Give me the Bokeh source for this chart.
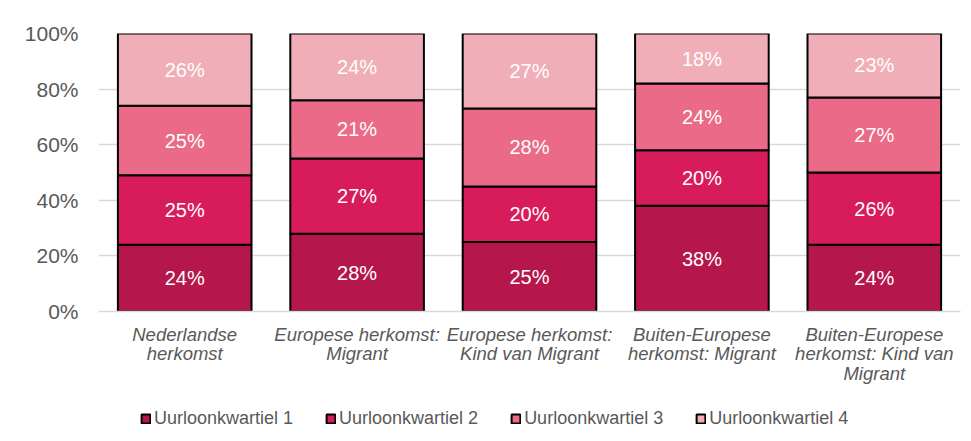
from bokeh.plotting import figure
from bokeh.layouts import column
from bokeh.models import ColumnDataSource, FixedTicker, NumeralTickFormatter, Legend, LegendItem, Range1d
from bokeh.core.properties import value
from bokeh.embed import file_html
from bokeh.resources import INLINE

categories = ["Nederlandse\nherkomst",
              "Europese herkomst:\nMigrant",
              "Europese herkomst:\nKind van Migrant",
              "Buiten-Europese\nherkomst: Migrant",
              "Buiten-Europese\nherkomst: Kind van\nMigrant"]
series_names = ["Uurloonkwartiel 1", "Uurloonkwartiel 2", "Uurloonkwartiel 3", "Uurloonkwartiel 4"]
q1 = [24, 28, 25, 38, 24]
q2 = [25, 27, 20, 20, 26]
q3 = [25, 21, 28, 24, 27]
q4 = [26, 24, 27, 18, 23]
colors = ["#B5164B", "#D81B5B", "#EA6A87", "#F0AEB8"]
y_ticks = [0, 0.2, 0.4, 0.6, 0.8, 1.0]

FONT = "Liberation Sans"
GRAY = "#595959"

xs = list(range(len(categories)))
series = [q1, q2, q3, q4]
keys = ["q1", "q2", "q3", "q4"]
data = {"x": xs}
for k, s in zip(keys, series):
    data[k] = [v / 100 for v in s]
src = ColumnDataSource(data)

p = figure(frame_width=862, frame_height=278, output_backend="svg", toolbar_location=None,
           x_range=(-0.5, len(categories) - 0.5), y_range=(0, 1),
           min_border_left=98, min_border_right=11, min_border_top=33, min_border_bottom=74)
p.outline_line_color = None
p.background_fill_color = "white"

renderers = p.vbar_stack(keys, x="x", width=0.775, source=src, fill_color=colors,
                         line_color="black", line_width=2)

# labels
lx, ly, lt = [], [], []
for i in xs:
    base = 0
    for s in series:
        v = s[i]
        lx.append(i)
        ly.append((base + v / 2) / 100)
        lt.append(f"{v}%")
        base += v
p.text(x=lx, y=ly, text=lt, text_color="white", text_font=value(FONT),
       text_font_size="20px", text_align="center", text_baseline="middle")

p.xgrid.grid_line_color = None
p.ygrid.grid_line_color = "#D9D9D9"
p.ygrid.grid_line_width = 1.5

p.yaxis.ticker = FixedTicker(ticks=y_ticks)
p.yaxis.formatter = NumeralTickFormatter(format="0%")
p.yaxis.axis_line_color = None
p.yaxis.major_tick_line_color = None
p.yaxis.minor_tick_line_color = None
p.yaxis.major_tick_out = 0
p.yaxis.major_label_text_font = FONT
p.yaxis.major_label_text_font_size = "21px"
p.yaxis.major_label_text_color = GRAY
p.yaxis.major_label_standoff = 20

p.xaxis.ticker = FixedTicker(ticks=xs)
p.xaxis.major_label_overrides = {i: c for i, c in zip(xs, categories)}
p.xaxis.axis_line_color = "#D9D9D9"
p.xaxis.axis_line_width = 1.5
p.xaxis.major_tick_line_color = None
p.xaxis.minor_tick_line_color = None
p.xaxis.major_tick_out = 0
p.xaxis.major_label_text_font = FONT
p.xaxis.major_label_text_font_size = "18.5px"
p.xaxis.major_label_text_font_style = "italic"
p.xaxis.major_label_text_color = GRAY
p.xaxis.major_label_text_line_height = 0.95
p.xaxis.major_label_standoff = 12

# legend in its own strip below the chart
lg = figure(width=971, height=56, output_backend="svg", toolbar_location=None,
            x_range=Range1d(0, 1), y_range=Range1d(0, 1),
            min_border_left=0, min_border_right=0, min_border_top=0, min_border_bottom=0)
lg.axis.visible = False
lg.grid.visible = False
lg.outline_line_color = None
legend_src = ColumnDataSource(dict(x=[0.5], top=[-5], bottom=[-5]))
dummy = [lg.vbar(x="x", top="top", bottom="bottom", width=0, source=legend_src,
                 fill_color=c, line_color="black", line_width=2)
         for c in colors]
legend = Legend(items=[LegendItem(label=n, renderers=[r]) for n, r in zip(series_names, dummy)],
                orientation="horizontal", location=(42, 14),
                glyph_width=11, glyph_height=11, label_standoff=3, spacing=32,
                label_text_font=FONT, label_text_font_size="18px", label_text_color=GRAY,
                border_line_color=None, background_fill_alpha=0, margin=0, padding=0)
lg.add_layout(legend, "center")

layout = column(p, lg, spacing=0)
open("out.html", "w").write(file_html(layout, INLINE))
